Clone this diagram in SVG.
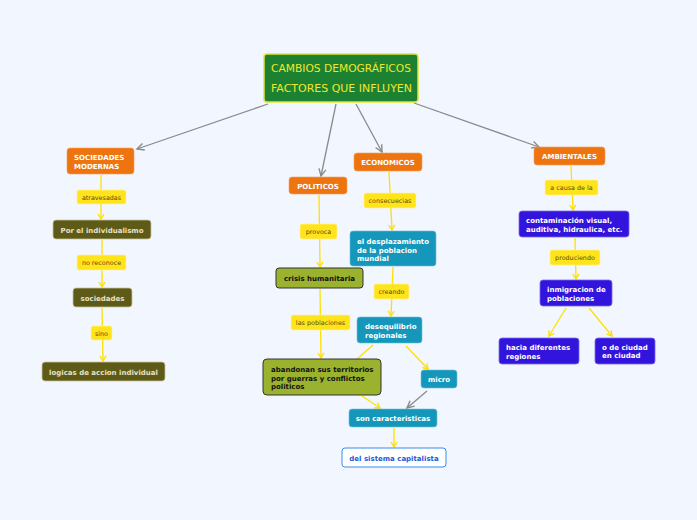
<svg xmlns="http://www.w3.org/2000/svg" width="697" height="520" viewBox="0 0 697 520">
<defs>
<marker id="ay" markerWidth="8" markerHeight="8" refX="6" refY="4" orient="auto" markerUnits="userSpaceOnUse"><path d="M1,1 L6,4 L1,7" fill="none" stroke="#ffe000" stroke-width="1.4"/></marker>
<marker id="ag" markerWidth="10" markerHeight="10" refX="8" refY="5" orient="auto" markerUnits="userSpaceOnUse"><path d="M1,1.5 L8,5 L1,8.5" fill="none" stroke="#8a8a8a" stroke-width="1.4"/></marker>
<style>
.t{font-family:"DejaVu Sans",Verdana,sans-serif;font-weight:bold;font-size:7px}
.l{font-family:"DejaVu Sans",Verdana,sans-serif;font-size:6.4px;fill:#5a4a10;text-anchor:middle}
.lb{fill:#ffe41c;stroke:#fff3a0;stroke-width:0.6}
.or{fill:#ee7410;stroke:#f6a060;stroke-width:0.6}
.ol{fill:#5e5a17;stroke:#c9c39a;stroke-width:0.8}
.gr{fill:#9bb22f;stroke:#333;stroke-width:1}
.te{fill:#1597bb;stroke:#6cc0da;stroke-width:0.6}
.bl{fill:#3314dc;stroke:#7a6af0;stroke-width:0.8}
.w{fill:#fff}
.ot{fill:#e6e2c6}
.k{fill:#111}
.cy{stroke:#ffe000;stroke-width:1.3;fill:none}
.cg{stroke:#8a8a8a;stroke-width:1.3;fill:none}
</style>
</defs>
<rect width="697" height="520" fill="#f2f6fe"/>
<g id="connectors">
<line class="cg" x1="268" y1="104" x2="137" y2="149" marker-end="url(#ag)"/>
<line class="cg" x1="336" y1="104" x2="321" y2="176" marker-end="url(#ag)"/>
<line class="cg" x1="356" y1="104" x2="382" y2="152" marker-end="url(#ag)"/>
<line class="cg" x1="414" y1="103" x2="539" y2="147" marker-end="url(#ag)"/>
<line class="cy" x1="101" y1="175" x2="101" y2="219" marker-end="url(#ay)"/>
<line class="cy" x1="102" y1="240" x2="102" y2="287" marker-end="url(#ay)"/>
<line class="cy" x1="102" y1="308" x2="103" y2="361" marker-end="url(#ay)"/>
<line class="cy" x1="319" y1="195" x2="320" y2="267" marker-end="url(#ay)"/>
<line class="cy" x1="320" y1="289" x2="321" y2="358" marker-end="url(#ay)"/>
<line class="cy" x1="389" y1="172" x2="392" y2="230" marker-end="url(#ay)"/>
<line class="cy" x1="393" y1="267" x2="391" y2="316" marker-end="url(#ay)"/>
<line class="cy" x1="373" y1="345" x2="357" y2="359"/>
<line class="cy" x1="406" y1="346" x2="428" y2="369" marker-end="url(#ay)"/>
<line class="cg" x1="427" y1="391" x2="407" y2="408" marker-end="url(#ag)"/>
<line class="cy" x1="362" y1="396" x2="380" y2="408" marker-end="url(#ay)"/>
<line class="cy" x1="394" y1="428" x2="394" y2="447" marker-end="url(#ay)"/>
<line class="cy" x1="571" y1="166" x2="573" y2="210" marker-end="url(#ay)"/>
<line class="cy" x1="575" y1="238" x2="576" y2="279" marker-end="url(#ay)"/>
<line class="cy" x1="566" y1="308" x2="549" y2="336" marker-end="url(#ay)"/>
<line class="cy" x1="589" y1="308" x2="612" y2="336" marker-end="url(#ay)"/>
</g>
<g id="title">
<rect x="264" y="54" width="154" height="48" rx="3" fill="#1c8232" stroke="#e3e23a" stroke-width="1.5"/>
<text x="271" y="72" font-family="'DejaVu Sans',sans-serif" font-size="11" fill="#f2e62a" textLength="140" lengthAdjust="spacingAndGlyphs">CAMBIOS DEMOGRÁFICOS</text>
<text x="271" y="92" font-family="'DejaVu Sans',sans-serif" font-size="11" fill="#f2e62a" textLength="141" lengthAdjust="spacingAndGlyphs">FACTORES QUE INFLUYEN</text>
</g>
<g id="sociedades-modernas"><rect class="or" x="67" y="148" width="67" height="26" rx="3"/><text class="t w" x="74" y="160">SOCIEDADES</text><text class="t w" x="74" y="168.5">MODERNAS</text></g>
<g id="lbl-atravesadas"><rect class="lb" x="77" y="190" width="49" height="14" rx="2"/><text class="l" x="101.5" y="199.5">atravesadas</text></g>
<g id="por-el-individualismo"><rect class="ol" x="53" y="220" width="98" height="19" rx="3"/><text class="t ot" x="102" y="232.5" text-anchor="middle">Por el individualismo</text></g>
<g id="lbl-no-reconoce"><rect class="lb" x="77" y="255" width="49" height="15" rx="2"/><text class="l" x="101.5" y="265">no reconoce</text></g>
<g id="sociedades"><rect class="ol" x="73" y="288" width="59" height="19" rx="3"/><text class="t ot" x="102.5" y="300.5" text-anchor="middle">sociedades</text></g>
<g id="lbl-sino"><rect class="lb" x="91" y="326" width="21" height="14" rx="2"/><text class="l" x="101.5" y="335.5">sino</text></g>
<g id="logicas"><rect class="ol" x="42" y="362" width="123" height="19" rx="3"/><text class="t ot" x="103.5" y="374.5" text-anchor="middle">logicas de accion individual</text></g>
<g id="politicos"><rect class="or" x="289" y="177" width="58" height="17" rx="3"/><text class="t w" x="318" y="188.5" text-anchor="middle">POLITICOS</text></g>
<g id="lbl-provoca"><rect class="lb" x="300" y="224" width="37" height="15" rx="2"/><text class="l" x="318.5" y="234">provoca</text></g>
<g id="crisis"><rect class="gr" x="276" y="268" width="87" height="20" rx="3"/><text class="t k" x="319.5" y="281" text-anchor="middle">crisis humanitaria</text></g>
<g id="lbl-las-poblaciones"><rect class="lb" x="291" y="315" width="59" height="15" rx="2"/><text class="l" x="320.5" y="325">las poblaciones</text></g>
<g id="abandonan"><rect class="gr" x="263" y="359" width="118" height="36" rx="4"/><text class="t k" x="271" y="372">abandonan sus territorios</text><text class="t k" x="271" y="380.5">por guerras y conflictos</text><text class="t k" x="271" y="389">politicos</text></g>
<g id="economicos"><rect class="or" x="354" y="153" width="68" height="18" rx="3"/><text class="t w" x="388" y="165" text-anchor="middle">ECONOMICOS</text></g>
<g id="lbl-consecuecias"><rect class="lb" x="364" y="193" width="52" height="15" rx="2"/><text class="l" x="390" y="203">consecuecias</text></g>
<g id="desplazamiento"><rect class="te" x="350" y="231" width="86" height="35" rx="3"/><text class="t w" x="357" y="244">el desplazamiento</text><text class="t w" x="357" y="252.5">de la poblacion</text><text class="t w" x="357" y="261">mundial</text></g>
<g id="lbl-creando"><rect class="lb" x="374" y="284" width="35" height="15" rx="2"/><text class="l" x="391.5" y="294">creando</text></g>
<g id="desequilibrio"><rect class="te" x="357" y="317" width="65" height="26" rx="3"/><text class="t w" x="365" y="329">desequilibrio</text><text class="t w" x="365" y="338">regionales</text></g>
<g id="micro"><rect class="te" x="421" y="370" width="36" height="18" rx="3"/><text class="t w" x="439" y="382" text-anchor="middle">micro</text></g>
<g id="son-caracteristicas"><rect class="te" x="349" y="409" width="88" height="18" rx="3"/><text class="t w" x="393" y="421" text-anchor="middle">son caracteristicas</text></g>
<g id="sistema-capitalista"><rect x="342" y="448" width="104" height="19" rx="3" fill="#fff" stroke="#3a8cf0" stroke-width="1"/><text class="t" x="394" y="461" text-anchor="middle" fill="#1a5ad8">del sistema capitalista</text></g>
<g id="ambientales"><rect class="or" x="534" y="147" width="71" height="18" rx="3"/><text class="t w" x="569.5" y="159" text-anchor="middle">AMBIENTALES</text></g>
<g id="lbl-a-causa"><rect class="lb" x="545" y="180" width="53" height="15" rx="2"/><text class="l" x="571.5" y="190">a causa de la</text></g>
<g id="contaminacion"><rect class="bl" x="519" y="211" width="110" height="26" rx="3"/><text class="t w" x="526" y="223">contaminación visual,</text><text class="t w" x="526" y="232">auditiva, hidraulica, etc.</text></g>
<g id="lbl-produciendo"><rect class="lb" x="550" y="250" width="50" height="15" rx="2"/><text class="l" x="575" y="260">produciendo</text></g>
<g id="inmigracion"><rect class="bl" x="540" y="280" width="72" height="26" rx="3"/><text class="t w" x="547" y="292">inmigracion de</text><text class="t w" x="547" y="300.5">poblaciones</text></g>
<g id="hacia-diferentes"><rect class="bl" x="499" y="338" width="80" height="26" rx="3"/><text class="t w" x="506" y="350">hacia diferentes</text><text class="t w" x="506" y="358.5">regiones</text></g>
<g id="ciudad"><rect class="bl" x="595" y="338" width="60" height="26" rx="3"/><text class="t w" x="602" y="350">o de ciudad</text><text class="t w" x="602" y="358">en ciudad</text></g>
</svg>
